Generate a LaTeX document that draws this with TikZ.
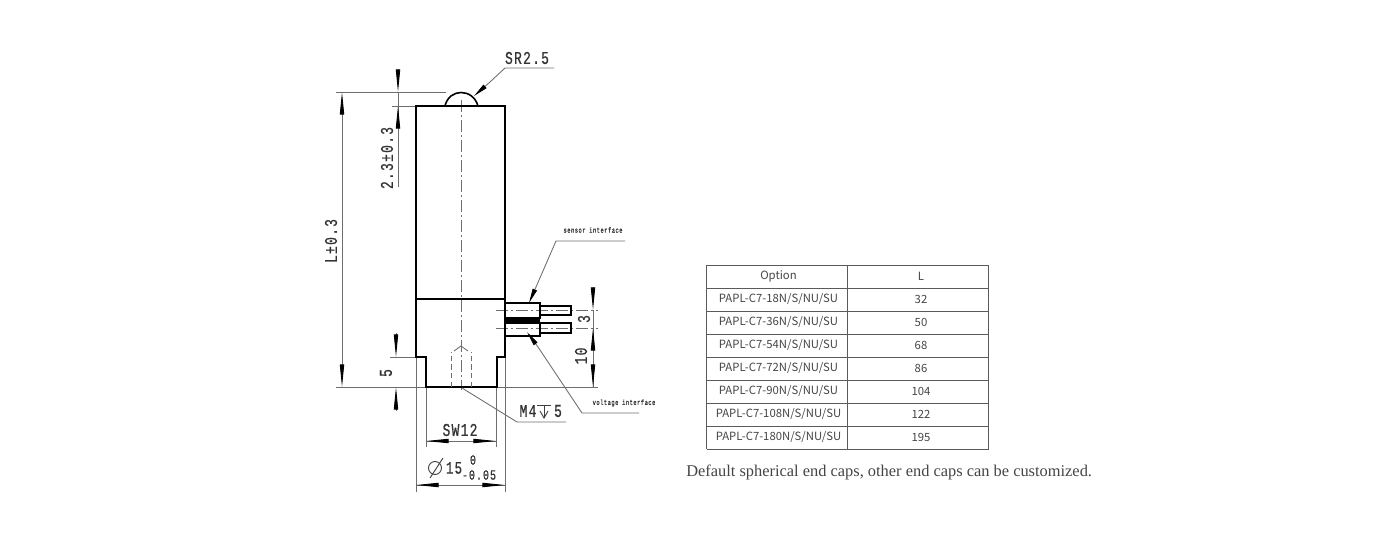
\documentclass[tikz,border=0pt]{standalone}
\usepackage{fontspec}
\usepackage{xcolor}
\usetikzlibrary{arrows.meta}
\newfontfamily\dwgfont[FakeStretch=0.72, LetterSpace=7, FakeBold=0.6]{Liberation Mono}
\newfontfamily\tabfont{Noto Sans CJK SC}
\newfontfamily\capfont{Liberation Serif}
\definecolor{dimgray}{HTML}{6E6E6E}
\definecolor{tabgray}{HTML}{5A5A5A}
\definecolor{txtgray}{HTML}{444444}
\tikzset{
    outline/.style = {black, line width = 1.6pt, line join = miter},
    thin line/.style = {dimgray, line width = .65pt},
    centre line/.style = {dimgray, line width = .6pt, dash pattern = on 9pt off 2pt on 2pt off 2pt},
    hidden line/.style = {dimgray, line width = .7pt, dash pattern = on 4pt off 2.5pt},
    dim tip/.style = {thin line, -{Triangle[length = 17pt, width = 3.2pt, color = black]}},
    lead tip/.style = {thin line, -{Triangle[length = 11pt, width = 3.4pt, color = black]}},
    dim text/.style = {font = \dwgfont\fontsize{13.5}{14}\selectfont, text = black!80, inner sep = 0pt},
    tiny text/.style = {font = \dwgfont\fontsize{5.6}{7}\selectfont, text = black!80, inner sep = 0pt},
    cell text/.style = {font = \tabfont\fontsize{8.5}{11}\selectfont, text = txtgray, inner sep = 0pt},
    grid line/.style = {tabgray, line width = .7pt}
}
\begin{document}
\begin{tikzpicture}[x = .75pt, y = -.75pt]
        \useasboundingbox (0, 0) rectangle (1396, 543);
        % centre lines
        \draw[centre line] (461, 100) -- (461, 390);
        \draw[centre line] (496, 310) -- (598, 310);
        \draw[centre line] (496, 328) -- (598, 328);
        % extension lines
        \draw[thin line] (336, 92) -- (446, 92);
        \draw[thin line] (392, 106) -- (416, 106);
        \draw[thin line] (390, 357) -- (416, 357);
        \draw[thin line] (336, 387) -- (598, 387);
        \draw[thin line] (416, 357) -- (416, 492);
        \draw[thin line] (505, 357) -- (505, 492);
        \draw[thin line] (426, 387) -- (426, 447);
        \draw[thin line] (496, 387) -- (496, 447);
        % body
        \draw[outline] (416, 299) -- (416, 106) -- (505, 106) -- (505, 299);
        \draw[outline] (416, 299) -- (505, 299);
        \draw[outline] (416, 299) -- (416, 357) -- (426, 357) -- (426, 387)
                -- (497, 387) -- (497, 357) -- (505, 357) -- (505, 299);
        \draw[outline, line width = 1.2pt] (445, 106) .. controls (449, 88) and (473, 88) .. (478, 106);
        \draw[outline] (443, 106) -- (479, 106);
        % connectors
        \draw[outline] (505, 303) -- (540, 303) -- (540, 318) -- (505, 318);
        \draw[outline] (505, 323) -- (540, 323) -- (540, 336) -- (505, 336);
        \fill[black] (505, 317) rectangle (540, 323);
        \draw[outline, line width = 1.3pt] (540, 306) -- (571, 306) -- (571, 315) -- (540, 315);
        \draw[outline, line width = 1.3pt] (540, 323) -- (571, 323) -- (571, 333) -- (540, 333);
        % threaded hole
        \draw[hidden line] (451, 387) -- (451, 352);
        \draw[hidden line] (471, 387) -- (471, 352);
        \draw[thin line] (454, 351) -- (461, 346) -- (468, 351);
        % dimensions
        \draw[thin line] (342, 116) -- (342, 363);
        \draw[dim tip] (342, 116) -- (342, 92);
        \draw[dim tip] (342, 363) -- (342, 387);
        \draw[dim tip] (398, 69) -- (398, 92);
        \draw[thin line] (398, 92) -- (398, 187);
        \draw[dim tip] (398, 130) -- (398, 106);
        \draw[dim tip] (396, 333) -- (396, 357);
        \draw[dim tip] (396, 411) -- (396, 387);
        \draw[dim tip] (593, 287) -- (593, 310);
        \draw[thin line] (593, 310) -- (593, 387);
        \draw[dim tip] (593, 352) -- (593, 328);
        \draw[dim tip] (593, 364) -- (593, 387);
        \draw[thin line] (426, 441) -- (496, 441);
        \draw[dim tip] (449, 441) -- (426, 441);
        \draw[dim tip] (473, 441) -- (496, 441);
        \draw[thin line] (416, 485) -- (505, 485);
        \draw[dim tip] (441, 485) -- (416, 485);
        \draw[dim tip] (482, 485) -- (505, 485);
        % leaders
        \draw[thin line] (554, 68) -- (505, 68) -- (490, 82);
        \draw[lead tip] (490, 82) -- (474, 96);
        \draw[thin line] (625, 241) -- (556, 241) -- (536, 287);
        \draw[lead tip] (536, 287) -- (529, 303);
        \draw[thin line] (639, 413) -- (582, 413) -- (538, 347);
        \draw[lead tip] (538, 347) -- (527, 332);
        \draw[thin line] (462, 388) -- (517, 422) -- (566, 422);
        % labels
        \node[dim text] (srlabel) at (527, 58) {SR2.5};
        \node[dim text, rotate = 90] (heightlabel) at (387, 158) {2.3±0.3};
        \node[dim text, rotate = 90] (lengthlabel) at (331, 241) {L±0.3};
        \node[dim text, rotate = 90] (steplabel) at (386, 373) {5};
        \node[dim text, rotate = 90] (pitchlabel) at (584, 319) {3};
        \node[dim text, rotate = 90] (baselabel) at (581, 356) {10};
        \node[dim text] (swlabel) at (460, 430) {SW12};
        \node[dim text, font = \dwgfont\fontsize{13}{14}\selectfont] (dialabel) at (454, 468) {15};
        \node[dim text, font = \dwgfont\fontsize{10.5}{10}\selectfont] (upperlabel) at (473, 460) {0};
        \node[dim text, font = \dwgfont\fontsize{10.5}{10}\selectfont] (lowerlabel) at (479, 475) {-0.05};
        \draw[black!75, line width = .7pt] (435, 468) circle (6.5);
        \draw[black!75, line width = .7pt] (430, 478) -- (443, 458);
        \node[dim text] (threadlabel) at (528, 411) {M4};
        \node[dim text] (depthlabel) at (558, 411) {5};
        \draw[black!75, line width = .7pt] (537, 405) -- (551, 405);
        \draw[black!75, line width = .7pt] (544, 405) -- (544, 418);
        \draw[black!75, line width = .7pt] (540, 411) -- (544, 418) -- (548, 411);
        \node[tiny text] (sensorlabel) at (593, 230) {sensor interface};
        \node[tiny text] (voltagelabel) at (624, 403) {voltage interface};
        % table
        \foreach \y in {265, 288, 311, 334, 357, 380, 403, 426, 449}
        \draw[grid line] (706.5, \y) -- (988.5, \y);
        \foreach \x in {706.5, 847.5, 988.5}
        \draw[grid line] (\x, 265) -- (\x, 449);
        \node[cell text] (opthead) at (778.5, 276) {Option};
        \node[cell text] (lenhead) at (921, 276) {L};
        \foreach \n/\opt/\len [count = \i] in {18/32/32, 36/50/50, 54/68/68, 72/86/86, 90/104/104, 108/122/122, 180/195/195}{
        \node[cell text] (opt\i) at (778.5, 276 + 23*\i) {PAPL-C7-\n N/S/NU/SU};
        \node[cell text] (len\i) at (921, 276 + 23*\i) {\len};
        }
        \node[font = \capfont\fontsize{12.3}{14}\selectfont, text = txtgray, inner sep = 0pt, anchor = west] (capline) at (686, 472.5) {Default spherical end caps, other end caps can be customized.};
\end{tikzpicture}
\end{document}
